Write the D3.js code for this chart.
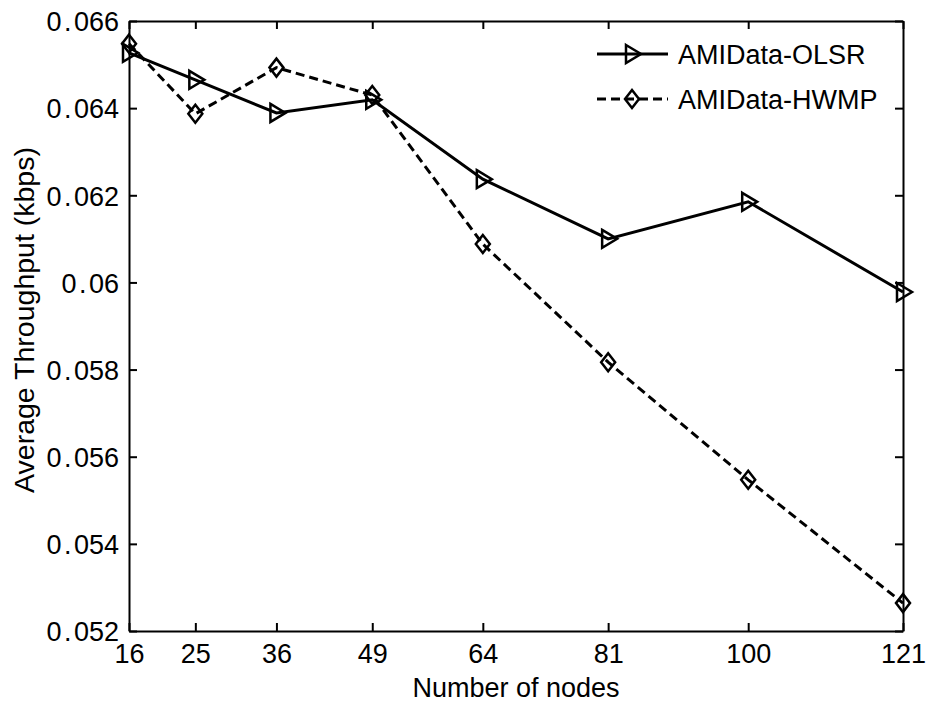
<!DOCTYPE html>
<html><head><meta charset="utf-8">
<script src="https://cdn.jsdelivr.net/npm/d3@7"></script>
<style>
html,body{margin:0;padding:0;background:#fff;}
text{font-family:"Liberation Sans",Arial,sans-serif;fill:#000;}
</style></head>
<body><svg id="c" width="928" height="705"></svg>
<script>
const nodes = [16, 25, 36, 49, 64, 81, 100, 121];
const olsr = [0.06527, 0.06465, 0.06389, 0.06419, 0.06237, 0.06100, 0.06185, 0.05978];
const hwmp = [0.06548, 0.06387, 0.06493, 0.06430, 0.06088, 0.05817, 0.05547, 0.05264];
const yTicks = [0.052, 0.054, 0.056, 0.058, 0.06, 0.062, 0.064, 0.066];
const yTickLabels = ["0.052", "0.054", "0.056", "0.058", "0.06", "0.062", "0.064", "0.066"];
const seriesNames = ["AMIData-OLSR", "AMIData-HWMP"];

const svg = d3.select("#c");
const L = 129, R = 903, T = 21, B = 631;
const x = d3.scaleLinear().domain([16, 121]).range([L, R]);
const y = d3.scaleLinear().domain([0.052, 0.066]).range([B, T]);
const tl = 8;

// axes
const gB = svg.append("g").attr("transform", `translate(0,${B})`)
  .call(d3.axisBottom(x).tickValues(nodes).tickSizeInner(-tl).tickSizeOuter(0).tickPadding(13));
const gT = svg.append("g").attr("transform", `translate(0,${T})`)
  .call(d3.axisTop(x).tickValues(nodes).tickSizeInner(-tl).tickSizeOuter(0).tickFormat(""));
const gL = svg.append("g").attr("transform", `translate(${L},0)`)
  .call(d3.axisLeft(y).tickValues(yTicks).tickSizeInner(-tl).tickSizeOuter(0).tickPadding(10)
    .tickFormat((d, i) => yTickLabels[i]));
const gR = svg.append("g").attr("transform", `translate(${R},0)`)
  .call(d3.axisRight(y).tickValues(yTicks).tickSizeInner(-tl).tickSizeOuter(0).tickFormat(""));
[gB, gT, gL, gR].forEach(g => {
  g.select(".domain").attr("stroke", "#000").attr("stroke-width", 2);
  g.selectAll(".tick line").attr("stroke", "#000").attr("stroke-width", 2);
  g.selectAll("text").style("font-family", "'Liberation Sans',Arial,sans-serif").style("font-size", "27px").attr("fill", "#000");
});
// y tick labels: slightly wider period as in the reference rendering
gL.selectAll(".tick text").each(function(d, i) {
  const t = d3.select(this);
  const s = yTickLabels[i];
  const k = s.indexOf(".");
  t.text(null).attr("dy", "0.36em");
  t.append("tspan").text(s.slice(0, k));
  t.append("tspan").attr("dx", 2.5).text(".");
  t.append("tspan").attr("dx", 2.5).text(s.slice(k + 1));
});

// axis labels
svg.append("text").attr("x", (L + R) / 2).attr("y", 697).attr("text-anchor", "middle")
  .style("font-size", "27px").text("Number of nodes");
svg.append("text").attr("transform", `translate(34,${(T + B) / 2 - 6}) rotate(-90)`).attr("text-anchor", "middle")
  .style("font-size", "28.5px").text("Average Throughput (kbps)");

const tri = "M-6,-9 L9,0 L-6,9 Z";
const dia = "M0,-9 L7,0 L0,9 L-7,0 Z";
const line = d3.line().x((d, i) => x(nodes[i])).y(d => y(d));

// HWMP
svg.append("path").datum(hwmp).attr("d", line).attr("fill", "none").attr("stroke", "#000")
  .attr("stroke-width", 3).attr("stroke-dasharray", "9,5");
svg.append("g").selectAll("path").data(hwmp).join("path")
  .attr("transform", (d, i) => `translate(${x(nodes[i])},${y(d)})`).attr("d", dia)
  .attr("fill", "none").attr("stroke", "#000").attr("stroke-width", 2.5);
// OLSR
svg.append("path").datum(olsr).attr("d", line).attr("fill", "none").attr("stroke", "#000")
  .attr("stroke-width", 3);
svg.append("g").selectAll("path").data(olsr).join("path")
  .attr("transform", (d, i) => `translate(${x(nodes[i])},${y(d)})`).attr("d", tri)
  .attr("fill", "none").attr("stroke", "#000").attr("stroke-width", 2.5);

// legend
const lg = svg.append("g");
const ly = [54, 99];
seriesNames.forEach((n, i) => {
  lg.append("line").attr("x1", 597).attr("x2", 668).attr("y1", ly[i]).attr("y2", ly[i])
    .attr("stroke", "#000").attr("stroke-width", 3).attr("stroke-dasharray", i ? "9,5" : null);
  lg.append("path").attr("transform", `translate(632,${ly[i]})`).attr("d", i ? dia : tri)
    .attr("fill", "none").attr("stroke", "#000").attr("stroke-width", 2.5);
  lg.append("text").attr("x", 678).attr("y", ly[i]).attr("dy", "0.36em").style("font-size", "27px").text(n);
});
</script></body></html>
